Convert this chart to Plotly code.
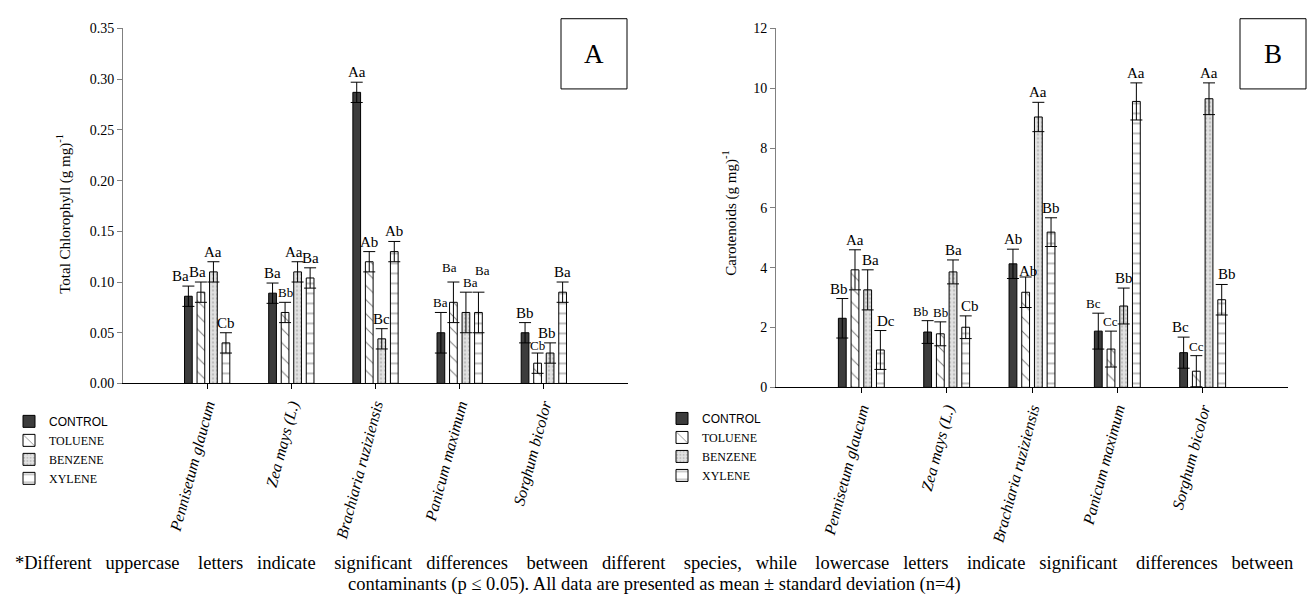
import plotly.graph_objects as go

W, H = 1308, 607

species = ["Pennisetum glaucum", "Zea mays (L.)", "Brachiaria ruziziensis",
           "Panicum maximum", "Sorghum bicolor"]
treatments = ["CONTROL", "TOLUENE", "BENZENE", "XYLENE"]

# Panel A: Total Chlorophyll
chl_control = [0.086, 0.089, 0.287, 0.050, 0.050]
chl_toluene = [0.090, 0.070, 0.120, 0.080, 0.020]
chl_benzene = [0.110, 0.110, 0.044, 0.070, 0.030]
chl_xylene = [0.040, 0.104, 0.130, 0.070, 0.090]
chl_err_control = [0.010, 0.010, 0.010, 0.020, 0.010]
chl_err_toluene = [0.010, 0.010, 0.010, 0.020, 0.010]
chl_err_benzene = [0.010, 0.010, 0.010, 0.020, 0.010]
chl_err_xylene = [0.010, 0.010, 0.010, 0.020, 0.010]
chl_lab_control = ["Ba", "Ba", "Aa", "Ba", "Bb"]
chl_lab_toluene = ["Ba", "Bb", "Ab", "Ba", "Cb"]
chl_lab_benzene = ["Aa", "Aa", "Bc", "Ba", "Bb"]
chl_lab_xylene = ["Cb", "Ba", "Ab", "Ba", "Ba"]

# Panel B: Carotenoids
car_control = [2.31, 1.85, 4.13, 1.88, 1.16]
car_toluene = [3.93, 1.79, 3.18, 1.28, 0.54]
car_benzene = [3.26, 3.86, 9.04, 2.72, 9.65]
car_xylene = [1.25, 2.01, 5.19, 9.56, 2.93]
car_err_control = [0.66, 0.38, 0.49, 0.60, 0.52]
car_err_toluene = [0.67, 0.40, 0.51, 0.60, 0.52]
car_err_benzene = [0.67, 0.40, 0.49, 0.60, 0.53]
car_err_xylene = [0.65, 0.38, 0.48, 0.62, 0.51]
car_lab_control = ["Bb", "Bb", "Ab", "Bc", "Bc"]
car_lab_toluene = ["Aa", "Bb", "Ab", "Cc", "Cc"]
car_lab_benzene = ["Ba", "Ba", "Aa", "Bb", "Aa"]
car_lab_xylene = ["Dc", "Cb", "Bb", "Aa", "Bb"]

caption_line1_words = ("*Different uppercase letters indicate significant differences between "
                       "different species, while lowercase letters indicate significant "
                       "differences between").split(" ")
caption_line2 = ("contaminants (p \u2264 0.05). All data are presented as mean \u00b1 "
                 "standard deviation (n=4)")

SERIF = "Liberation Serif"

styles = {
    "CONTROL": dict(color="#3c3c3c", pattern=dict(shape="")),
    "TOLUENE": dict(color="white", pattern=dict(shape="\\", fgcolor="black", bgcolor="white",
                                                 size=10, solidity=0.1, fillmode="overlay")),
    "BENZENE": dict(color="#dadada", pattern=dict(shape=".", fgcolor="#9a9a9a", bgcolor="#e2e2e2",
                                                   size=4, solidity=0.3, fillmode="overlay")),
    "XYLENE": dict(color="white", pattern=dict(shape="-", fgcolor="black", bgcolor="white",
                                                size=10, solidity=0.1, fillmode="overlay")),
}

legend_names = {
    "CONTROL": '<span style="font-family:Liberation Sans, Arial, sans-serif">CONTROL</span>',
    "TOLUENE": "TOLUENE", "BENZENE": "BENZENE", "XYLENE": "XYLENE",
}

# small nudges of significance letters: (panel, treatment, species) -> (xshift px, yshift px)
label_nudge = {
    (0, 0, 0): (-8, 0), (0, 1, 0): (-3, 0), (0, 2, 1): (-4, 0), (0, 1, 3): (-4, 5),
    (0, 2, 3): (5, 0), (0, 3, 3): (4, 12), (0, 2, 4): (-3, 0), (0, 1, 4): (0, -2),
    (1, 0, 0): (-3, 0), (1, 2, 0): (3, 0), (1, 3, 0): (6, 0), (1, 0, 1): (-7, 0),
    (1, 3, 1): (4, 0), (1, 0, 3): (-5, 0), (1, 0, 4): (-3, 0), (1, 3, 4): (5, 0),
    (1, 1, 2): (2, -4),
}
# letters printed slightly smaller in the original
small_labels = {(0, 1, 1), (0, 0, 3), (0, 1, 3), (0, 2, 3), (0, 3, 3), (0, 1, 4),
                (1, 0, 1), (1, 1, 1), (1, 0, 3), (1, 1, 3), (1, 1, 4)}

def px(x):
    return x / W

def py(y):
    return 1 - y / H

fig = go.Figure()

panels = [
    dict(xa="x", ya="y", legend="legend",
         vals=[chl_control, chl_toluene, chl_benzene, chl_xylene],
         errs=[chl_err_control, chl_err_toluene, chl_err_benzene, chl_err_xylene],
         labs=[chl_lab_control, chl_lab_toluene, chl_lab_benzene, chl_lab_xylene]),
    dict(xa="x2", ya="y2", legend="legend2",
         vals=[car_control, car_toluene, car_benzene, car_xylene],
         errs=[car_err_control, car_err_toluene, car_err_benzene, car_err_xylene],
         labs=[car_lab_control, car_lab_toluene, car_lab_benzene, car_lab_xylene]),
]

BARGAP = 0.405
slot = (1 - BARGAP) / 4
annotations = []
for pi, p in enumerate(panels):
    for k, t in enumerate(treatments):
        st = styles[t]
        fig.add_trace(go.Bar(
            x=species, y=p["vals"][k], name=legend_names[t],
            xaxis=p["xa"], yaxis=p["ya"], legend=p["legend"],
            marker=dict(color=st["color"], line=dict(color="black", width=1),
                        pattern=st["pattern"]),
            error_y=dict(type="data", array=p["errs"][k], symmetric=True,
                         color="black", thickness=1, width=6),
        ))
        off = (k - 1.5) * slot
        for i in range(len(species)):
            dx, dy = label_nudge.get((pi, k, i), (0, 0))
            annotations.append(dict(
                x=i + off, y=p["vals"][k][i] + p["errs"][k][i],
                xref=p["xa"], yref=p["ya"], text=p["labs"][k][i],
                showarrow=False, yanchor="bottom", xanchor="center",
                xshift=dx, yshift=dy,
                font=dict(family=SERIF, size=13 if (pi, k, i) in small_labels else 15,
                          color="black")))

axis_common = dict(showgrid=False, zeroline=False, showline=True, ticks="outside",
                   tickfont=dict(family=SERIF, size=14, color="black"))
xaxis_common = dict(range=[-1, 5], linecolor="black", tickcolor="black", ticklen=5,
                    tickangle=-75, showgrid=False, zeroline=False, showline=True,
                    ticks="outside",
                    tickfont=dict(family=SERIF, size=16, color="black", style="italic"))

fig.update_layout(
    width=W, height=H, margin=dict(l=0, r=0, t=0, b=0),
    paper_bgcolor="white", plot_bgcolor="white",
    barmode="group", bargap=BARGAP, bargroupgap=0.384,
    xaxis=dict(domain=[px(123), px(628)], anchor="y", **xaxis_common),
    yaxis=dict(domain=[py(386), py(22)], anchor="x", range=[0, 0.35], dtick=0.05,
               tickformat=".2f", linecolor="#808080", tickcolor="#808080", ticklen=5,
               **axis_common),
    xaxis2=dict(domain=[px(776), px(1288)], anchor="y2", **xaxis_common),
    yaxis2=dict(domain=[py(390), py(22)], anchor="x2", range=[0, 12], dtick=2,
                linecolor="#808080", tickcolor="#808080", ticklen=5, **axis_common),
    legend=dict(x=px(9), y=py(410), xanchor="left", yanchor="top",
                font=dict(family=SERIF, size=12, color="black"),
                bgcolor="rgba(0,0,0,0)", tracegroupgap=0, itemwidth=30),
    legend2=dict(x=px(662), y=py(407), xanchor="left", yanchor="top",
                 font=dict(family=SERIF, size=12, color="black"),
                 bgcolor="rgba(0,0,0,0)", tracegroupgap=0, itemwidth=30),
    showlegend=True,
)

# Axis titles
annotations.append(dict(x=px(64), y=py(212), xref="paper", yref="paper",
                        xanchor="center", yanchor="middle",
                        text="Total Chlorophyll (g mg)<sup>-1</sup>", textangle=-90,
                        showarrow=False, font=dict(family=SERIF, size=15, color="black")))
annotations.append(dict(x=px(730), y=py(212), xref="paper", yref="paper",
                        xanchor="center", yanchor="middle",
                        text="Carotenoids (g mg)<sup>-1</sup>", textangle=-90,
                        showarrow=False, font=dict(family=SERIF, size=15, color="black")))

# Panel letters in boxes
shapes = []
for (x0, x1, letter) in [(561, 627, "A"), (1240, 1306, "B")]:
    shapes.append(dict(type="rect", xref="paper", yref="paper",
                       x0=px(x0), x1=px(x1), y0=py(84), y1=py(12),
                       line=dict(color="black", width=1), fillcolor="white"))
    annotations.append(dict(x=px((x0 + x1) / 2), y=py(48), xref="paper", yref="paper",
                            xanchor="center", yanchor="middle",
                            text=letter, showarrow=False,
                            font=dict(family=SERIF, size=27, color="black")))

# Caption: first line justified (wider word gaps), second line centred
line1 = caption_line1_words[0]
for j, w in enumerate(caption_line1_words[1:]):
    line1 += " " + "\u00a0" * (2 if j % 2 == 0 else 3) + w
annotations.append(dict(x=0.5, y=py(570), xref="paper", yref="paper",
                        xanchor="center", yanchor="middle", text=line1, showarrow=False,
                        borderpad=0,
                        font=dict(family=SERIF, size=18.5, color="black")))
annotations.append(dict(x=0.5, y=py(592), xref="paper", yref="paper",
                        xanchor="center", yanchor="middle", text=caption_line2, showarrow=False,
                        borderpad=0,
                        font=dict(family=SERIF, size=18.5, color="black")))

fig.update_layout(annotations=annotations, shapes=shapes)
fig.write_html("out.html", config={"displayModeBar": False},
               post_script="document.body.style.margin='0';document.body.style.overflow='hidden';")
